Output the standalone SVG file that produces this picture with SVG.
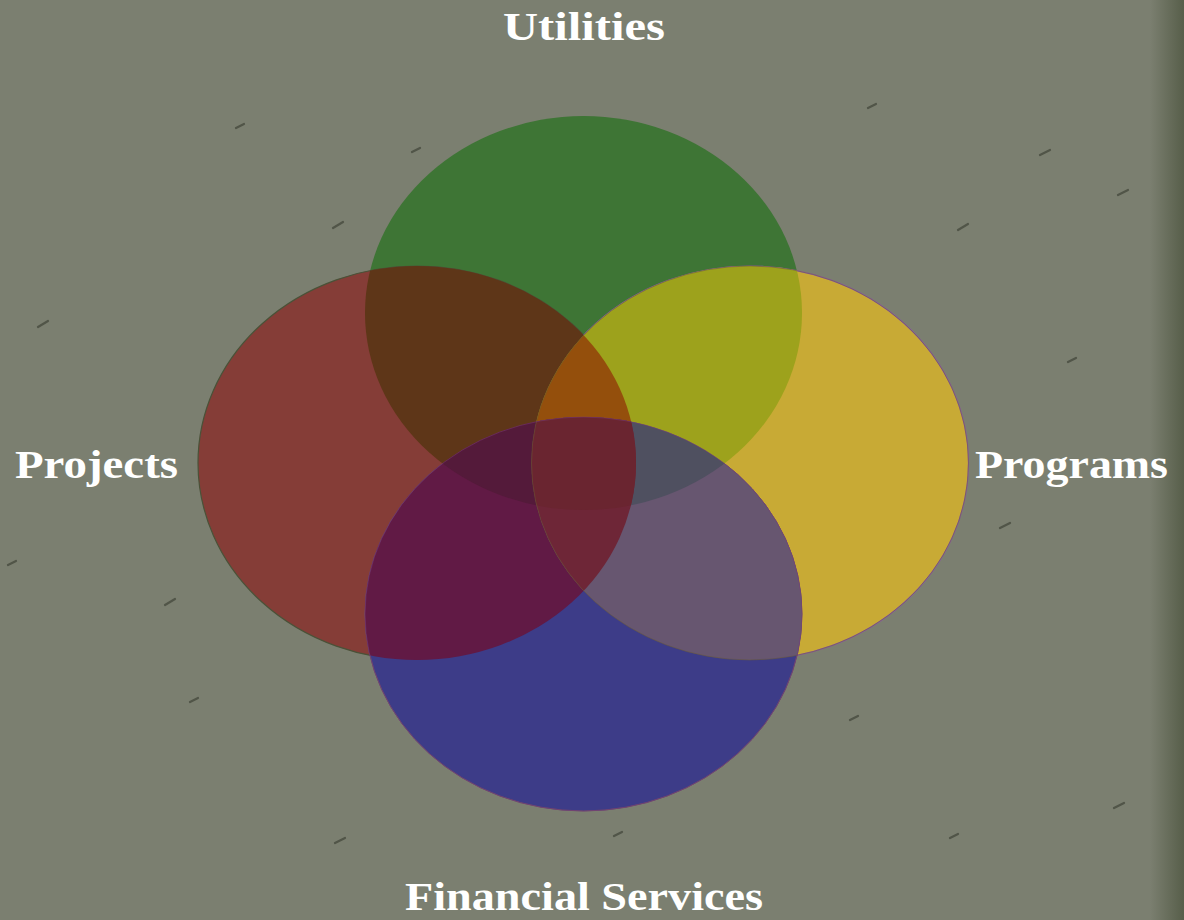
<svg xmlns="http://www.w3.org/2000/svg" width="1184" height="920" viewBox="0 0 1184 920">
<style>
.lbl{font-family:"Liberation Serif","DejaVu Serif",serif;font-weight:bold;font-size:40px;fill:#ffffff}
.mark{stroke:#2f3328;stroke-width:2.2;stroke-linecap:round;opacity:.55}
</style>
<defs>
<ellipse id="eG" cx="583.5" cy="313" rx="218.5" ry="197"/>
<ellipse id="eR" cx="417" cy="463" rx="219" ry="197"/>
<ellipse id="eY" cx="750" cy="463" rx="218.5" ry="197"/>
<ellipse id="eB" cx="583.5" cy="614" rx="218.5" ry="197"/>
<clipPath id="cG"><use href="#eG"/></clipPath>
<clipPath id="cR"><use href="#eR"/></clipPath>
<clipPath id="cY"><use href="#eY"/></clipPath>
<clipPath id="cB"><use href="#eB"/></clipPath>
<linearGradient id="edge" x1="0" y1="0" x2="1" y2="0">
<stop offset="0" stop-color="#4e5640" stop-opacity="0"/>
<stop offset="1" stop-color="#4e5640" stop-opacity="0.8"/>
</linearGradient>
</defs>
<rect id="background" width="1184" height="920" fill="#7b7f70"/>
<rect x="1150" y="0" width="34" height="920" fill="url(#edge)"/>
<g id="texture">
<line class="mark" x1="495" y1="192" x2="503" y2="188"/>
<line class="mark" x1="333" y1="228" x2="343" y2="222"/>
<line class="mark" x1="38" y1="327" x2="48" y2="321"/>
<line class="mark" x1="958" y1="230" x2="968" y2="224"/>
<line class="mark" x1="1118" y1="195" x2="1128" y2="190"/>
<line class="mark" x1="1040" y1="155" x2="1050" y2="150"/>
<line class="mark" x1="868" y1="108" x2="876" y2="104"/>
<line class="mark" x1="412" y1="152" x2="420" y2="148"/>
<line class="mark" x1="236" y1="128" x2="244" y2="124"/>
<line class="mark" x1="165" y1="605" x2="175" y2="599"/>
<line class="mark" x1="1000" y1="528" x2="1010" y2="523"/>
<line class="mark" x1="1114" y1="808" x2="1124" y2="803"/>
<line class="mark" x1="950" y1="838" x2="958" y2="834"/>
<line class="mark" x1="335" y1="843" x2="345" y2="838"/>
<line class="mark" x1="614" y1="836" x2="622" y2="832"/>
<line class="mark" x1="190" y1="702" x2="198" y2="698"/>
<line class="mark" x1="850" y1="720" x2="858" y2="716"/>
<line class="mark" x1="1068" y1="362" x2="1076" y2="358"/>
<line class="mark" x1="8" y1="565" x2="16" y2="561"/>
</g>
<g id="node-utilities">
<use href="#eG" fill="#3e7535"/>
<text class="lbl" x="584" y="40" text-anchor="middle" textLength="162" lengthAdjust="spacingAndGlyphs">Utilities</text>
</g>
<g id="node-projects">
<use href="#eR" fill="#853d37" stroke="#4a5238" stroke-width="1.2"/>
<text class="lbl" x="15" y="478" textLength="163" lengthAdjust="spacingAndGlyphs">Projects</text>
</g>
<g id="node-programs">
<use href="#eY" fill="#c8aa35" stroke="#8a5aa8" stroke-width="1.2"/>
<text class="lbl" x="975" y="478" textLength="193" lengthAdjust="spacingAndGlyphs">Programs</text>
</g>
<g id="node-financial-services">
<use href="#eB" fill="#3d3c88" stroke="#6a4a6a" stroke-width="1"/>
<text class="lbl" x="405" y="910" textLength="358" lengthAdjust="spacingAndGlyphs">Financial Services</text>
</g>
<g id="overlaps">
<use href="#eR" clip-path="url(#cG)" fill="#5e3618"/>
<use href="#eY" clip-path="url(#cG)" fill="#9da21c"/>
<use href="#eB" clip-path="url(#cR)" fill="#611a45"/>
<use href="#eB" clip-path="url(#cY)" fill="#675670"/>
<g clip-path="url(#cR)"><use href="#eY" clip-path="url(#cG)" fill="#944f0c"/></g>
<g clip-path="url(#cR)"><use href="#eB" clip-path="url(#cG)" fill="#541a3a"/></g>
<g clip-path="url(#cY)"><use href="#eB" clip-path="url(#cG)" fill="#4f5060"/></g>
<g clip-path="url(#cY)"><use href="#eB" clip-path="url(#cR)" fill="#6e2637"/></g>
<g clip-path="url(#cY)"><g clip-path="url(#cR)"><use href="#eB" clip-path="url(#cG)" fill="#6a2530"/></g></g>
<use href="#eY" fill="none" stroke="#6a5a30" stroke-width="0.8" opacity="0.6"/>
<use href="#eB" fill="none" stroke="#7a3a7a" stroke-width="0.8" opacity="0.6"/>
</g>
</svg>
